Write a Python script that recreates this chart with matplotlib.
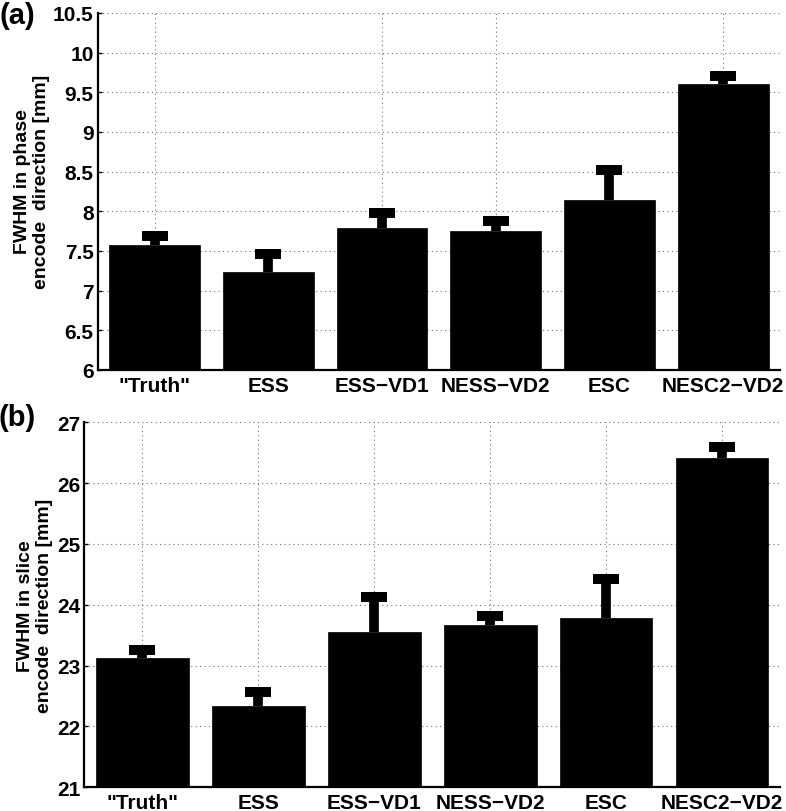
import matplotlib
matplotlib.use("Agg")
import matplotlib.pyplot as plt
import numpy as np

plt.rcParams['font.family'] = ['Liberation Sans', 'DejaVu Sans']
plt.rcParams['font.weight'] = 'bold'

categories = ['"Truth"', 'ESS', 'ESS\u2212VD1', 'NESS\u2212VD2', 'ESC', 'NESC2\u2212VD2']

phase_vals = [7.57, 7.23, 7.79, 7.75, 8.14, 9.61]
phase_err = [0.12, 0.23, 0.19, 0.13, 0.38, 0.10]
slice_vals = [23.13, 22.33, 23.56, 23.66, 23.78, 26.41]
slice_err = [0.13, 0.23, 0.57, 0.16, 0.64, 0.18]

phase_ticks = [6, 6.5, 7, 7.5, 8, 8.5, 9, 9.5, 10, 10.5]
phase_ticklabels = ['6', '6.5', '7', '7.5', '8', '8.5', '9', '9.5', '10', '10.5']
slice_ticks = [21, 22, 23, 24, 25, 26, 27]

top_vgrid = ['"Truth"', 'ESS\u2212VD1', 'NESS\u2212VD2', 'NESC2\u2212VD2']
bottom_vgrid = categories

fig = plt.figure(figsize=(7.86, 8.12), dpi=100)
W, H = 786, 812


def px_axes(l, t, r, b):
    return fig.add_axes([l / W, 1 - b / H, (r - l) / W, (b - t) / H])


def draw(ax, vals, err, ylim, yticks, yticklabels, ylabel, vgrid, labelx, labely):
    x = np.arange(len(categories))
    vals = np.asarray(vals)
    err = np.asarray(err)
    ax.set_axisbelow(True)
    ax.bar(x, vals, width=0.8, color='black', edgecolor='black', linewidth=0.5, zorder=2)
    # upper error stems (no caps)
    ax.errorbar(x, vals, yerr=[np.zeros(len(err)), err], fmt='none', ecolor='black',
                elinewidth=7, capsize=0, zorder=3)
    # upper caps
    ax.plot(x, vals + err, linestyle='none', marker='_', markersize=19,
            markeredgewidth=7.2, color='black', zorder=4)
    ax.set_xlim(-0.5, len(categories) - 0.5)
    ax.set_ylim(*ylim)
    ax.set_yticks(yticks)
    ax.set_yticklabels(yticklabels)
    ax.set_xticks(x)
    ax.set_xticklabels(categories)
    for t in yticks[1:]:
        ax.axhline(t, color='0.45', linestyle=(0, (1, 3)), linewidth=0.8, zorder=0)
    for c in vgrid:
        ax.axvline(categories.index(c), color='0.45', linestyle=(0, (1, 3)), linewidth=0.8, zorder=0)
    for s in ['top', 'right']:
        ax.spines[s].set_visible(False)
    for s in ['left', 'bottom']:
        ax.spines[s].set_linewidth(1.6)
    ax.tick_params(axis='y', direction='in', length=3, width=1, pad=3, labelsize=15)
    ax.tick_params(axis='x', length=0, pad=4, labelsize=15)
    for lab in ax.get_xticklabels() + ax.get_yticklabels():
        lab.set_fontweight('bold')
    ax.set_ylabel(ylabel, fontsize=14, fontweight='bold', multialignment='center', linespacing=1.15)
    ax.yaxis.set_label_coords(labelx, labely)


ax1 = px_axes(97.7, 14, 780, 371)
draw(ax1, phase_vals, phase_err, (6, 10.5), phase_ticks, phase_ticklabels,
     'FWHM in phase\nencode  direction [mm]', top_vgrid, -0.070, 0.53)

ax2 = px_axes(84.3, 423.3, 780, 788.3)
draw(ax2, slice_vals, slice_err, (21, 27), slice_ticks, [str(t) for t in slice_ticks],
     'FWHM in slice\nencode  direction [mm]', bottom_vgrid, -0.045, 0.5)

fig.text(17.5 / W, 1 - 15.5 / H, '(a)', fontsize=21, fontweight='bold', ha='center', va='center')
fig.text(17.5 / W, 1 - 418 / H, '(b)', fontsize=21, fontweight='bold', ha='center', va='center')

fig.savefig('out.png', dpi=100)
